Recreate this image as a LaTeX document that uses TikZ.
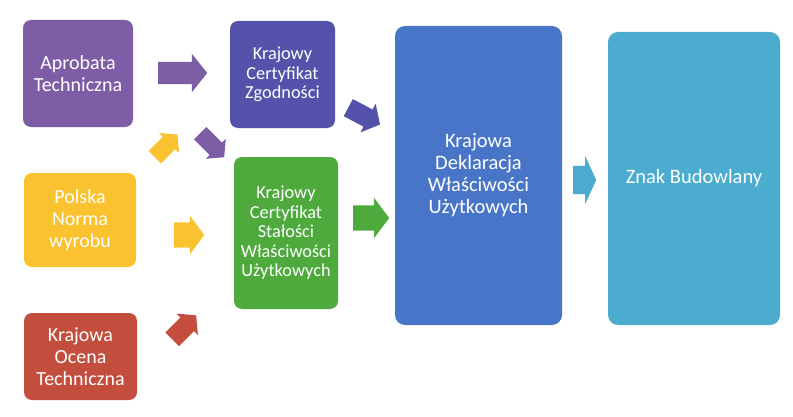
\documentclass[tikz,border=0pt]{standalone}
\usepackage{fontspec}
\setmainfont{Carlito}
\usetikzlibrary{shapes.arrows}
\definecolor{cApro}{RGB}{125,93,166}
\definecolor{cZgod}{RGB}{84,82,170}
\definecolor{cNorm}{RGB}{250,194,46}
\definecolor{cStal}{RGB}{78,170,60}
\definecolor{cOcen}{RGB}{196,78,62}
\definecolor{cDekl}{RGB}{72,117,200}
\definecolor{cZnak}{RGB}{75,172,208}
\begin{document}
\begin{tikzpicture}[x=1pt,y=1pt,
  box/.style={rectangle, rounded corners=8pt, text=white, align=center, inner sep=0pt, fill=#1},
  ltxt/.style={font=\fontsize{20}{22}\selectfont},
  mtxt/.style={font=\fontsize{18.3}{19.5}\selectfont},
  rtxt/.style={font=\fontsize{20.5}{22}\selectfont},
  barrow/.style n args={5}{single arrow, fill=#1, draw=none, inner xsep=0pt, inner ysep={#4/2},
    minimum height=#2, minimum width=#3, single arrow head extend={(#3-#4)/2},
    single arrow tip angle=#5, single arrow head indent=0pt, anchor=tail}
]
\fill[white] (0,0) rectangle (793,416);
\useasboundingbox (0,0) rectangle (793,416);

% boxes
\node[box=cApro, ltxt, minimum width=110, minimum height=107] (apro) at (78,342.5) {Aprobata\\Techniczna};
\node[box=cZgod, mtxt, minimum width=105, minimum height=107] (zgod) at (282.5,341.5) {Krajowy\\Certyfikat\\Zgodności};
\node[box=cNorm, ltxt, minimum width=112, minimum height=94] (norm) at (80,196) {Polska\\Norma\\wyrobu};
\node[box=cStal, mtxt, minimum width=104, minimum height=152] (stal) at (286,183) {Krajowy\\Certyfikat\\Stałości\\Właściwości\\Użytkowych};
\node[box=cOcen, ltxt, minimum width=113, minimum height=87] (ocen) at (80.5,59.5) {Krajowa\\Ocena\\Techniczna};
\node[box=cDekl, rtxt, rounded corners=10pt, minimum width=167, minimum height=299] (dekl) at (478.5,240.5) {Krajowa\\Deklaracja\\Właściwości\\Użytkowych};
\node[box=cZnak, rtxt, rounded corners=10pt, minimum width=172, minimum height=293] (znak) at (694,237.5) {Znak Budowlany};

% block arrows
\node[barrow={cApro}{49}{38}{22}{103}] (a1) at (158,343) {};
\node[barrow={cZgod}{36}{32}{19}{100}, rotate=-28] (a2) at (348.1,308.5) {};
\node[barrow={cNorm}{32}{28}{17}{100}, rotate=45] (a3) at (154.7,258.7) {};
\node[barrow={cApro}{34}{28}{17}{100}, rotate=-45] (a4) at (200,283) {};
\node[barrow={cStal}{36}{40}{25}{106}] (a5) at (353,198) {};
\node[barrow={cNorm}{30}{38}{25}{107}] (a6) at (174,181) {};
\node[barrow={cOcen}{34}{30}{19}{100}, rotate=45] (a7) at (172,76.5) {};
\node[barrow={cZnak}{23}{48}{28}{131}] (a8) at (573,236) {};
\end{tikzpicture}
\end{document}
